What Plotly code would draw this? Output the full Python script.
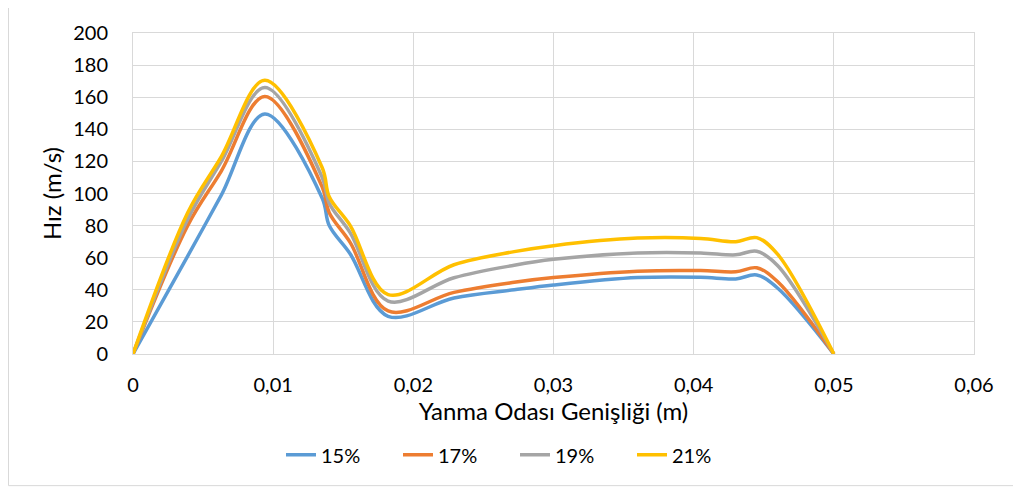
import plotly.graph_objects as go

x_vals = [0, 0.0039, 0.0063, 0.0094, 0.0135, 0.014, 0.0155, 0.0182, 0.0229,
          0.0272, 0.030, 0.036, 0.0405, 0.043, 0.0445, 0.046, 0.05]

s15 = [0, 61, 99, 149.6, 97, 80, 62.3, 23.5, 34.9, 40, 43, 47.6, 47.8, 46.8, 49.2, 41, 0]
s17 = [0, 80, 114, 160.5, 104, 88, 69.4, 26.8, 38.4, 44.7, 47.6, 51.6, 52, 51.2, 53.7, 45, 0]
s19 = [0, 84, 120, 166, 110, 94, 75.5, 33, 47.5, 55.3, 59, 63, 63, 61.8, 64, 55, 0]
s21 = [0, 88, 123, 170.5, 116, 98, 80, 37, 55.6, 63.8, 67.5, 72.2, 72, 70, 72.5, 62, 0]

names = ["15%", "17%", "19%", "21%"]
series = [s15, s17, s19, s21]
colors = ["#5B9BD5", "#ED7D31", "#A5A5A5", "#FFC000"]

x_ticks = [0, 0.01, 0.02, 0.03, 0.04, 0.05, 0.06]
x_tick_text = ["0", "0,01", "0,02", "0,03", "0,04", "0,05", "0,06"]
y_ticks = list(range(0, 201, 20))

FONT = "Lato"

fig = go.Figure()
for name, ys, c in zip(names, series, colors):
    fig.add_trace(go.Scatter(
        x=x_vals, y=ys, name=name, mode="lines",
        line=dict(color=c, width=3.5, shape="spline", smoothing=1),
    ))

# page body has an 8px default margin, so figure coordinates = screen - 8
OFF = 8
L, R, T, B = 133 - OFF, 974 - OFF, 26 - OFF, 354 - OFF
W, H = 1021 - OFF, 490 - OFF
pw, ph = R - L, B - T

def px_x(px):
    return (px - L) / pw

def px_y(py):
    return (B - py) / ph

fig.update_layout(
    width=W, height=H,
    margin=dict(l=L, r=W - R, t=T, b=H - B, pad=0),
    paper_bgcolor="white", plot_bgcolor="white",
    font=dict(family=FONT, size=20, color="#000000"),
    showlegend=True,
    legend=dict(
        orientation="h", x=px_x(515 - OFF), y=px_y(457 - OFF),
        xanchor="center", yanchor="middle",
        font=dict(family=FONT, size=20), entrywidth=72, bgcolor="rgba(0,0,0,0)",
    ),
    xaxis=dict(
        range=[0, 0.06], tickvals=x_ticks, ticktext=x_tick_text,
        showgrid=True, gridcolor="#D9D9D9", gridwidth=1,
        showline=True, linecolor="#D9D9D9", linewidth=1, mirror=True,
        zeroline=False, ticks="", ticklabelstandoff=13,
        tickfont=dict(family=FONT, size=20),
        title=dict(text="Yanma Odası Genişliği (m)", font=dict(family=FONT, size=24), standoff=6),
    ),
    yaxis=dict(
        range=[0, 200], tickvals=y_ticks,
        showgrid=True, gridcolor="#D9D9D9", gridwidth=1,
        showline=True, linecolor="#D9D9D9", linewidth=1, mirror=True,
        zeroline=False, ticks="", ticklabelstandoff=20,
        tickfont=dict(family=FONT, size=20),
        title=dict(text="Hız (m/s)", font=dict(family=FONT, size=24), standoff=4),
    ),
    shapes=[dict(
        type="rect", xref="paper", yref="paper",
        x0=px_x(0.5), x1=px_x(W + 10), y0=px_y(H - 1.5), y1=px_y(-10),
        line=dict(color="#D9D9D9", width=1), fillcolor="rgba(0,0,0,0)", layer="below",
    )],
)

fig.write_html("out.html")
